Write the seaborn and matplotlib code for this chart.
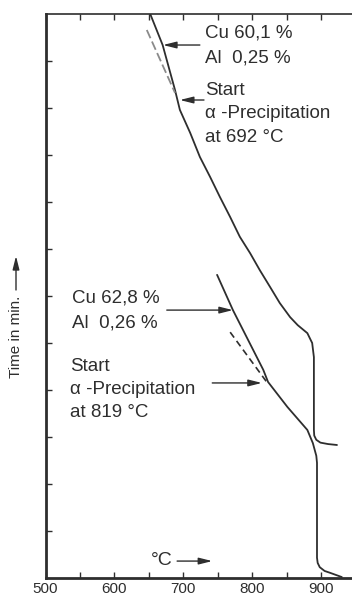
import matplotlib
matplotlib.use("Agg")
import matplotlib.pyplot as plt
import seaborn as sns

# cooling curve, Cu 60,1 % / Al 0,25 %   (temperature in degC, time in tick units)
temp_a = [652, 670, 688, 695, 710, 724, 739, 753, 768, 782, 797, 811, 826, 840,
          855, 866, 880, 887, 889.5, 889.5, 890, 893, 899, 910, 923]
time_a = [12.0, 11.34, 10.38, 9.96, 9.47, 8.96, 8.53, 8.11, 7.68, 7.26, 6.91, 6.55, 6.19, 5.85,
          5.55, 5.38, 5.21, 5.00, 4.70, 3.15, 3.03, 2.94, 2.88, 2.85, 2.83]

# cooling curve, Cu 62,8 % / Al 0,26 %
temp_b = [749, 772, 816, 823, 851, 880, 888, 893, 894, 894, 895, 898, 905, 913, 930]
time_b = [6.45, 5.70, 4.43, 4.17, 3.64, 3.15, 2.87, 2.60, 2.45, 0.43, 0.32, 0.23, 0.15, 0.11, 0.02]

# extrapolated initial slopes (dashed)
ext_a_temp = [647, 688]
ext_a_time = [11.66, 10.32]
ext_b_temp = [768, 821]
ext_b_time = [5.23, 4.17]

xtick_major = [500, 600, 700, 800, 900]
xtick_minor = [550, 650, 750, 850]
ytick_pos = list(range(1, 12))

label_a = ["Cu 60,1 %", "Al  0,25 %"]
start_a = ["Start", "\u03b1 -Precipitation", "at 692 \u00b0C"]
label_b = ["Cu 62,8 %", "Al  0,26 %"]
start_b = ["Start", "\u03b1 -Precipitation", "at 819 \u00b0C"]

sns.set_style("ticks")
plt.rcParams['font.family'] = ['Liberation Sans', 'DejaVu Sans']

ink = '#2e2e2e'
fig = plt.figure(figsize=(3.52, 5.96), dpi=100)
ax = fig.add_axes([45.5 / 352, 18 / 596, 306.5 / 352, 564 / 596])

sns.lineplot(x=temp_a, y=time_a, sort=False, estimator=None, ax=ax, color=ink, lw=1.3)
sns.lineplot(x=temp_b, y=time_b, sort=False, estimator=None, ax=ax, color=ink, lw=1.3)
sns.lineplot(x=ext_a_temp, y=ext_a_time, sort=False, estimator=None, ax=ax,
             color='#8a8a8a', lw=1.3, linestyle=(0, (5, 2)))
sns.lineplot(x=ext_b_temp, y=ext_b_time, sort=False, estimator=None, ax=ax,
             color=ink, lw=1.2, linestyle=(0, (4, 2.5)))

ax.set_xlim(500, 944.8)
ax.set_ylim(0, 12)

ax.spines['right'].set_visible(False)
ax.spines['left'].set_linewidth(2.0)
ax.spines['bottom'].set_linewidth(2.0)
ax.spines['top'].set_linewidth(1.2)
for s in ['left', 'bottom', 'top']:
    ax.spines[s].set_color(ink)

ax.set_xticks(xtick_major)
ax.set_xticks(xtick_minor, minor=True)
ax.set_yticks(ytick_pos)
ax.tick_params(axis='x', which='both', direction='in', top=True, length=4, width=1.0,
               color=ink, labelsize=11, pad=3, labelcolor=ink)
ax.tick_params(axis='y', which='both', direction='in', length=4, width=1.0,
               color=ink, labelleft=False)
ax.set_xlabel('')
ax.set_ylabel('')

arrow = dict(arrowstyle='-|>,head_length=0.8,head_width=0.2', color=ink, lw=1.0,
             mutation_scale=10, shrinkA=0, shrinkB=0)

# upper curve annotations
ax.annotate('', xy=(670.5, 11.34), xytext=(724, 11.34), arrowprops=arrow)
ax.annotate('', xy=(695, 10.17), xytext=(730, 10.17), arrowprops=arrow)
for i, t in enumerate(label_a):
    ax.text(731, 11.6 - i * 0.53, t, fontsize=13.5, color=ink, va='center', ha='left')
for i, t in enumerate(start_a):
    ax.text(731, 10.38 - i * 0.5, t, fontsize=13.5, color=ink, va='center', ha='left')

# lower curve annotations
ax.annotate('', xy=(772, 5.70), xytext=(676, 5.70), arrowprops=arrow)
ax.annotate('', xy=(814, 4.15), xytext=(742, 4.15), arrowprops=arrow)
for i, t in enumerate(label_b):
    ax.text(538.5, 5.96 - i * 0.53, t, fontsize=13.5, color=ink, va='center', ha='left')
for i, t in enumerate(start_b):
    ax.text(535.6, 4.51 - i * 0.49, t, fontsize=13.5, color=ink, va='center', ha='left')

# axis captions
ax.text(668, 0.38, '\u00b0C', fontsize=14, color=ink, va='center', ha='center')
ax.annotate('', xy=(742, 0.36), xytext=(691, 0.36), arrowprops=arrow)
fig.text(16 / 352, 1 - 337 / 596, 'Time in min.', rotation=90, fontsize=11,
         color=ink, va='center', ha='center')
ax.annotate('', xy=(16, 596 - 256), xytext=(16, 596 - 290), xycoords='figure pixels',
            arrowprops=arrow)

fig.savefig('out.png', dpi=100)
